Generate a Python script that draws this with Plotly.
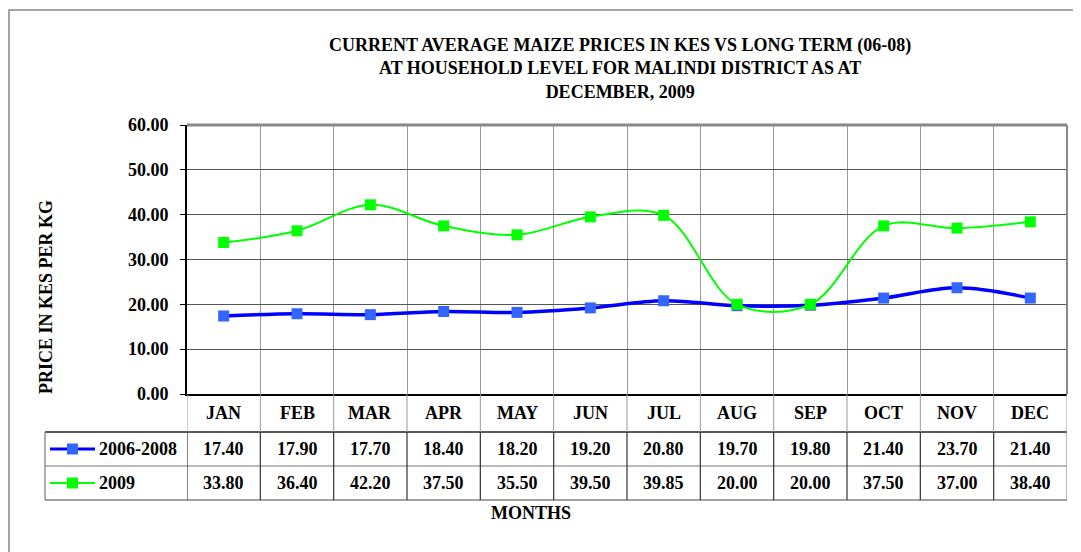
import plotly.graph_objects as go

# -----------------------------
# DATA
# -----------------------------
months = ["JAN", "FEB", "MAR", "APR", "MAY", "JUN",
          "JUL", "AUG", "SEP", "OCT", "NOV", "DEC"]
long_term = [17.40, 17.90, 17.70, 18.40, 18.20, 19.20,
             20.80, 19.70, 19.80, 21.40, 23.70, 21.40]
year_2009 = [33.80, 36.40, 42.20, 37.50, 35.50, 39.50,
             39.85, 20.00, 20.00, 37.50, 37.00, 38.40]
series_names = ["2006-2008", "2009"]

title_text = ("CURRENT AVERAGE MAIZE PRICES IN KES VS LONG TERM (06-08)<br>"
              "AT HOUSEHOLD LEVEL FOR MALINDI DISTRICT AS AT<br>"
              "DECEMBER, 2009")

FONT = "Liberation Serif"
BOLD = dict(family=FONT, size=18, color="black", weight="bold")

# page offset (body margin) and plot area in page pixels
OFF = 8
W, H = 1081 - OFF, 552 - OFF
L, R, T, B = 187, 1067, 125, 394


def xp(x):
    # page pixel x -> paper x
    return (x - L) / (R - L)


def yp(y):
    # page pixel y -> paper y
    return (B - y) / (B - T)


fig = go.Figure()

fig.add_trace(go.Scatter(
    x=months, y=long_term, name=series_names[0],
    mode="lines+markers",
    line=dict(color="#0000FF", width=3.5, shape="spline"),
    marker=dict(symbol="square", size=11, color="#3366FF"),
))
fig.add_trace(go.Scatter(
    x=months, y=year_2009, name=series_names[1],
    mode="lines+markers",
    line=dict(color="#00FF00", width=2, shape="spline"),
    marker=dict(symbol="square", size=11, color="#00FF00"),
))

fig.update_xaxes(
    type="category", categoryorder="array", categoryarray=months,
    range=[-0.5, 11.5], tickson="boundaries",
    showgrid=True, gridcolor="#999999", gridwidth=1,
    showticklabels=False, ticks="",
    showline=True, linecolor="black", linewidth=2,
)
fig.update_yaxes(
    range=[0, 60], dtick=10, tickformat=".2f",
    showgrid=True, gridcolor="#555555", gridwidth=1,
    showline=True, linecolor="black", linewidth=2,
    ticks="outside", ticklen=5, tickcolor="black",
    tickfont=BOLD, zeroline=False, ticklabelstandoff=8,
)

shapes = []
# top / right frame of the plot area
shapes.append(dict(type="line", xref="paper", yref="paper", x0=0, x1=1, y0=1, y1=1,
                   line=dict(color="#888888", width=3)))
shapes.append(dict(type="line", xref="paper", yref="paper", x0=1, x1=1, y0=0, y1=1,
                   line=dict(color="#888888", width=2)))

# data table grid
row_top, row_mid, row_bot = yp(432), yp(466), yp(500)
for yy, col, lw in [(row_top, "#222222", 1.5), (row_mid, "#777777", 1.2), (row_bot, "#444444", 1.2)]:
    shapes.append(dict(type="line", xref="paper", yref="paper",
                       x0=xp(45), x1=1, y0=yy, y1=yy,
                       line=dict(color=col, width=lw)))
shapes.append(dict(type="line", xref="paper", yref="paper",
                   x0=xp(45), x1=xp(45), y0=row_bot, y1=row_top,
                   line=dict(color="#777777", width=1.2)))
for i in range(len(months) + 1):
    shapes.append(dict(type="line", xref="x", yref="paper",
                       x0=i - 0.5, x1=i - 0.5, y0=row_top, y1=0,
                       line=dict(color="#999999", width=1)))
    shapes.append(dict(type="line", xref="x", yref="paper",
                       x0=i - 0.5, x1=i - 0.5, y0=row_bot, y1=row_top,
                       line=dict(color="#333333" if i < len(months) else "#888888", width=1.2)))

# legend keys inside the table
for (yy, lc, mc, lw) in [(449, "#0000FF", "#3366FF", 3), (483, "#00FF00", "#00FF00", 2)]:
    shapes.append(dict(type="line", xref="paper", yref="paper",
                       x0=xp(50), x1=xp(95), y0=yp(yy), y1=yp(yy),
                       line=dict(color=lc, width=lw)))
    shapes.append(dict(type="rect", xref="paper", yref="paper",
                       x0=xp(67), x1=xp(78), y0=yp(yy + 5.5), y1=yp(yy - 5.5),
                       fillcolor=mc, line=dict(width=0)))

# outer chart border
shapes.append(dict(type="rect", xref="paper", yref="paper",
                   x0=xp(OFF + 1), x1=xp(1100), y0=yp(580), y1=yp(10),
                   line=dict(color="#888888", width=1.5)))

annotations = []
annotations.append(dict(text=title_text, xref="paper", yref="paper",
                        x=xp(620), y=yp(68), showarrow=False,
                        xanchor="center", yanchor="middle", font=BOLD))
annotations.append(dict(text="PRICE IN KES PER KG", xref="paper", yref="paper",
                        x=xp(46), y=yp(297), textangle=-90, showarrow=False,
                        xanchor="center", yanchor="middle", font=BOLD))
annotations.append(dict(text="MONTHS", xref="paper", yref="paper",
                        x=xp(531), y=yp(513), showarrow=False,
                        xanchor="center", yanchor="middle", font=BOLD))

for m, a, b in zip(months, long_term, year_2009):
    for txt, yy in [(m, 413), (f"{a:.2f}", 449), (f"{b:.2f}", 483)]:
        annotations.append(dict(text=txt, xref="x", yref="paper", x=m, y=yp(yy),
                                xanchor="center", yanchor="middle",
                                showarrow=False, font=BOLD))

for name, yy in zip(series_names, [449, 483]):
    annotations.append(dict(text=name, xref="paper", yref="paper",
                            x=xp(97), y=yp(yy), xanchor="left", yanchor="middle",
                            showarrow=False, font=BOLD))

fig.update_layout(
    width=W, height=H,
    margin=dict(l=L - OFF, r=W - (R - OFF), t=T - OFF, b=H - (B - OFF)),
    plot_bgcolor="white", paper_bgcolor="white",
    showlegend=False,
    shapes=shapes, annotations=annotations,
    font=dict(family=FONT),
)

fig.write_html("out.html")
